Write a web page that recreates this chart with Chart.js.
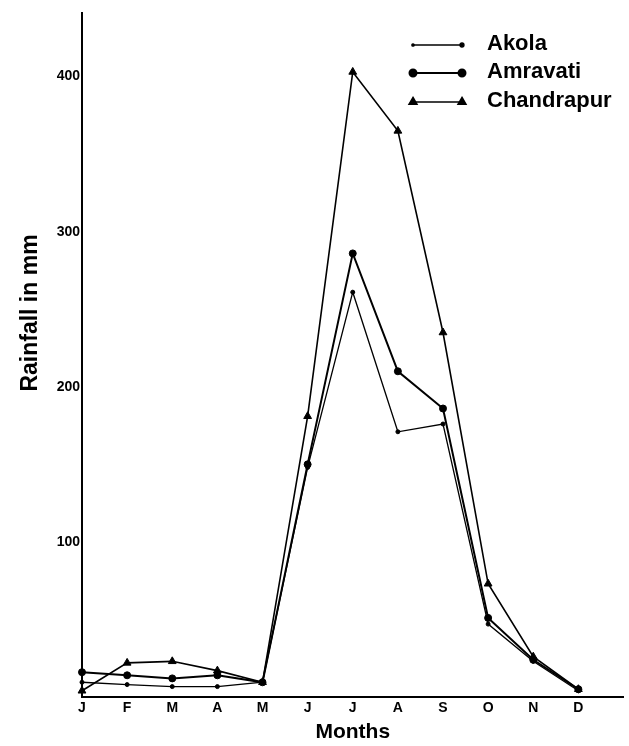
<!DOCTYPE html>
<html>
<head>
<meta charset="utf-8">
<script src="https://cdn.jsdelivr.net/npm/chart.js@4/dist/chart.umd.min.js"></script>
<style>
html,body{margin:0;padding:0;background:#fff;}
#wrap{width:629px;height:746px;position:relative;}
</style>
</head>
<body>
<div id="wrap"><canvas id="c" width="629" height="746"></canvas></div>
<script>
// ---- data ----
const months = ['J','F','M','A','M','J','J','A','S','O','N','D'];
const akola      = [9.5, 8, 6.7, 6.7, 9.5, 148, 261, 171, 176, 47, 23, 4];
const amravati   = [16, 14, 12, 14, 9.5, 150, 286, 210, 186, 51, 24, 5];
const chandrapur = [4, 22, 23, 17, 9.5, 181, 403, 365, 235, 73, 26, 5];
const seriesNames = ['Akola', 'Amravati', 'Chandrapur'];
const yTicks = [100, 200, 300, 400];
const yTitle = 'Rainfall in mm';
const xTitle = 'Months';

const FONT = '"Liberation Sans", Arial, Helvetica, sans-serif';

const legendPlugin = {
  id: 'inlineLegend',
  afterDraw(chart) {
    const ctx = chart.ctx;
    const x1 = 413, x2 = 462, tx = 487;
    const ys = [45, 73, 102];
    chart.data.datasets.forEach((ds, i) => {
      const y = ys[i];
      ctx.save();
      ctx.strokeStyle = '#000';
      ctx.fillStyle = '#000';
      ctx.lineWidth = ds.borderWidth;
      ctx.beginPath(); ctx.moveTo(x1, y); ctx.lineTo(x2, y); ctx.stroke();
      const r0 = i === 0 ? 1.2 : ds.pointRadius;
      Chart.helpers.drawPoint(ctx, {pointStyle: ds.pointStyle, radius: r0, borderWidth: 1}, x1, y);
      Chart.helpers.drawPoint(ctx, {pointStyle: ds.pointStyle, radius: ds.pointRadius, borderWidth: 1}, x2, y);
      ctx.font = 'bold 22px ' + FONT;
      ctx.textBaseline = 'alphabetic';
      ctx.textAlign = 'left';
      ctx.fillText(ds.label, tx, y + 5);
      ctx.restore();
    });
    // y-axis title, placed as in the reference (above the axis centre)
    ctx.save();
    ctx.translate(31, 313);
    ctx.rotate(-Math.PI / 2);
    ctx.fillStyle = '#000';
    ctx.font = 'bold 23px ' + FONT;
    ctx.textAlign = 'center';
    ctx.textBaseline = 'middle';
    ctx.fillText(yTitle, 0, 0);
    ctx.restore();
  }
};

const common = {borderColor: '#000', backgroundColor: '#000', pointBorderColor: '#000', pointBackgroundColor: '#000', tension: 0, fill: false, clip: false};

new Chart(document.getElementById('c'), {
  type: 'line',
  data: {
    labels: months.concat(['']),
    datasets: [
      Object.assign({label: seriesNames[0], data: akola, borderWidth: 1.3, pointStyle: 'circle', pointRadius: 2, pointBorderWidth: 1}, common),
      Object.assign({label: seriesNames[1], data: amravati, borderWidth: 2, pointStyle: 'circle', pointRadius: 3.5, pointBorderWidth: 1}, common),
      Object.assign({label: seriesNames[2], data: chandrapur, borderWidth: 1.6, pointStyle: 'triangle', pointRadius: 4.5, pointBorderWidth: 1}, common)
    ]
  },
  options: {
    responsive: false,
    animation: false,
    devicePixelRatio: 1,
    layout: {padding: {top: 13, right: 0, left: 0, bottom: 0}},
    plugins: {legend: {display: false}, tooltip: {enabled: false}},
    scales: {
      x: {
        type: 'category',
        offset: false,
        grid: {display: false, drawTicks: false},
        border: {display: true, color: '#000', width: 2},
        ticks: {color: '#000', font: {family: FONT, size: 14, weight: 'bold'}, padding: 3, autoSkip: false, maxRotation: 0},
        title: {display: true, text: xTitle, color: '#000', font: {family: FONT, size: 21, weight: 'bold'}, padding: {top: 0, bottom: 1}},
        afterFit(s) { s.height = 49; s.paddingRight = 0; }
      },
      y: {
        type: 'linear',
        min: 0,
        max: 441,
        grid: {display: false, drawTicks: false},
        border: {display: true, color: '#000', width: 2},
        afterBuildTicks(s) { s.ticks = yTicks.map(v => ({value: v})); },
        ticks: {color: '#000', font: {family: FONT, size: 14, weight: 'bold'}, padding: 2},
        title: {display: false, text: yTitle},
        afterFit(s) { s.width = 82; }
      }
    }
  },
  plugins: [legendPlugin]
});
</script>
</body>
</html>
